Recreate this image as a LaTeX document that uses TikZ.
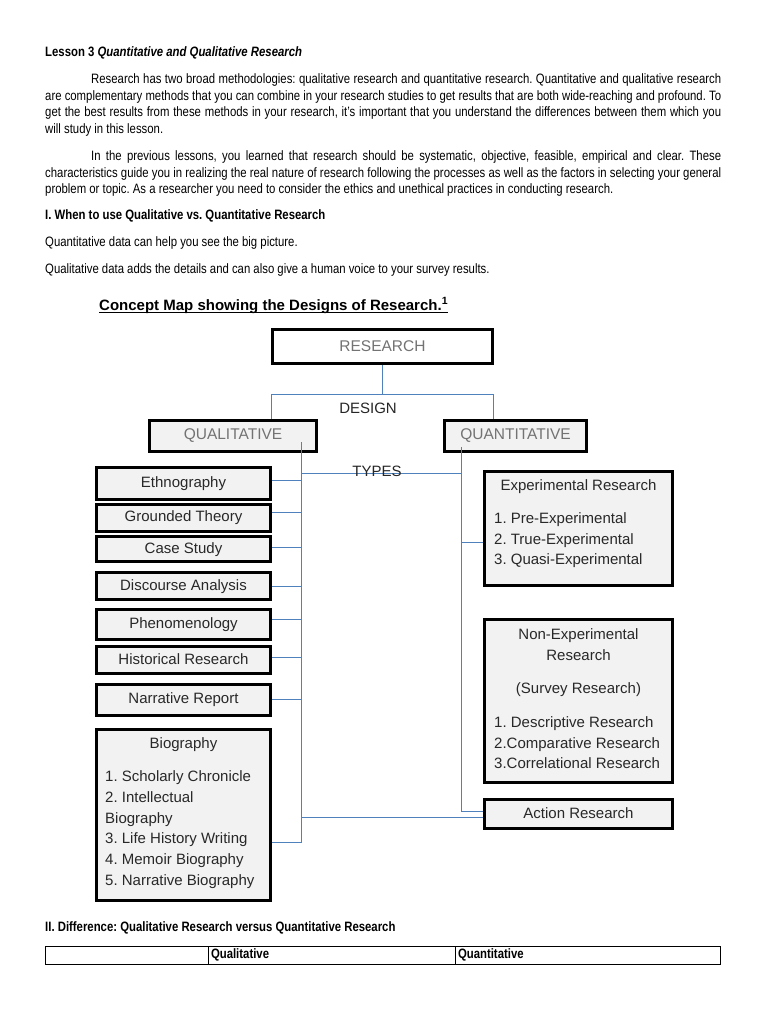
\documentclass[tikz,border=0pt]{standalone}
\usepackage{fontspec}
\setmainfont{Liberation Sans}
\newfontfamily\narrowfont[FakeStretch=0.835]{Liberation Sans}
\definecolor{connc}{RGB}{79,129,189}
\definecolor{boxfill}{RGB}{242,242,242}
\definecolor{boxtext}{RGB}{40,40,40}
\frenchspacing
\begin{document}
\begin{tikzpicture}[x=1pt,y=-1pt,
  body/.style={anchor=base west, inner sep=0, font=\narrowfont\fontsize{13.6}{16}\selectfont, text=black},
  bodyb/.style={body, font=\narrowfont\bfseries\fontsize{13.6}{16}\selectfont},
  box/.style={draw=black, line width=2.6pt, fill=boxfill, inner sep=0},
  lbl/.style={inner sep=0, font=\fontsize{15}{18}\selectfont, text=boxtext, text height=11pt, text depth=3pt},
  head/.style={inner sep=0, font=\fontsize{15.5}{18}\selectfont, text=black!55},
  conn/.style={draw=connc, line width=0.9pt},
  cell/.style={draw=black, line width=0.8pt, inner xsep=3pt, inner ysep=0, outer sep=0, minimum height=18pt, anchor=north west, align=left, font=\narrowfont\bfseries\fontsize{13.6}{16}\selectfont}]
\useasboundingbox (0,0) rectangle (768,1024);
\fill[white] (0,0) rectangle (768,1024);

% ---------- text ----------
\node[bodyb] (lesson) at (45,57) {Lesson 3 \textit{Quantitative and Qualitative Research}};
\node[body] (p1a) at (91,84) {\makebox[630pt][s]{Research has two broad methodologies: qualitative research and quantitative research. Quantitative and qualitative research}};
\node[body] (p1b) at (45,100.5) {\makebox[676pt][s]{are complementary methods that you can combine in your research studies to get results that are both wide-reaching and profound. To}};
\node[body] (p1c) at (45,117) {\makebox[676pt][s]{get the best results from these methods in your research, it’s important that you understand the differences between them which you}};
\node[body] (p1d) at (45,133.5) {will study in this lesson.};
\node[body] (p2a) at (91,161) {\makebox[630pt][s]{In the previous lessons, you learned that research should be systematic, objective, feasible, empirical and clear. These}};
\node[body] (p2b) at (45,177.5) {\makebox[676pt][s]{characteristics guide you in realizing the real nature of research following the processes as well as the factors in selecting your general}};
\node[body] (p2c) at (45,194) {problem or topic. As a researcher you need to consider the ethics and unethical practices in conducting research.};
\node[bodyb] (sec1) at (45,219.5) {I. When to use Qualitative vs. Quantitative Research};
\node[body] (q1) at (45,246.5) {Quantitative data can help you see the big picture.};
\node[body] (q2) at (45,273.5) {Qualitative data adds the details and can also give a human voice to your survey results.};
\node[anchor=base west, inner sep=0, font=\bfseries\fontsize{15}{18}\selectfont] (cm) at (99,310) {Concept Map showing the Designs of Research.\textsuperscript{1}};
\draw[line width=1.3pt] ([yshift=-2.5pt]cm.base west) -- ([yshift=-2.5pt]cm.base east);

% ---------- boxes ----------
\node[box, fill=white, minimum width=220pt, minimum height=34pt] (res) at (382.5,346.5) {};
\node[head] (rest) at (res) {RESEARCH};
\node[box, minimum width=167pt, minimum height=31pt] (ql) at (233,436) {};
\node[head] (qlt0) at (ql) {QUALITATIVE};
\node[box, minimum width=142pt, minimum height=31pt] (qn) at (515.5,436) {};
\node[head] (qnt0) at (qn) {QUANTITATIVE};

\node[box, minimum width=174pt, minimum height=32pt] (eth) at (183.5,483.5) {};
\node[box, minimum width=174pt, minimum height=27pt] (gro) at (183.5,518) {};
\node[box, minimum width=174pt, minimum height=25pt] (cas) at (183.5,549) {};
\node[box, minimum width=174pt, minimum height=27pt] (dis) at (183.5,586) {};
\node[box, minimum width=174pt, minimum height=30pt] (phe) at (183.5,624.5) {};
\node[box, minimum width=174pt, minimum height=27pt] (his) at (183.5,660) {};
\node[box, minimum width=174pt, minimum height=31pt] (nar) at (183.5,700) {};
\node[box, minimum width=174pt, minimum height=171pt] (bio) at (183.5,815) {};

\node[box, minimum width=188pt, minimum height=114pt] (exp) at (578.5,528.5) {};
\node[box, minimum width=188pt, minimum height=163pt] (non) at (578.5,701) {};
\node[box, minimum width=188pt, minimum height=29pt] (act) at (578.5,814) {};

% ---------- labels ----------
\node[lbl] (etht) at (183.5,483) {Ethnography};
\node[lbl] (grot) at (183.5,517) {Grounded Theory};
\node[lbl] (cast) at (183.5,549) {Case Study};
\node[lbl] (dist) at (183.5,586) {Discourse Analysis};
\node[lbl] (phet) at (183.5,624) {Phenomenology};
\node[lbl] (hist) at (183.5,660) {Historical Research};
\node[lbl] (nart) at (183.5,699) {Narrative Report};
\node[lbl] (biot) at (183.5,744) {Biography};
\node[lbl, anchor=west] (bio1) at (105,777) {1. Scholarly Chronicle};
\node[lbl, anchor=west] (bio2) at (105,798) {2. Intellectual};
\node[lbl, anchor=west] (bio3) at (105,819) {Biography};
\node[lbl, anchor=west] (bio4) at (105,839.5) {3. Life History Writing};
\node[lbl, anchor=west] (bio5) at (105,860) {4. Memoir Biography};
\node[lbl, anchor=west] (bio6) at (105,881) {5. Narrative Biography};

\node[lbl] (expt) at (578.5,486) {Experimental Research};
\node[lbl, anchor=west] (exp1) at (494,519.5) {1. Pre-Experimental};
\node[lbl, anchor=west] (exp2) at (494,540.5) {2. True-Experimental};
\node[lbl, anchor=west] (exp3) at (494,560.5) {3. Quasi-Experimental};

\node[lbl] (nont1) at (578.5,635) {Non-Experimental};
\node[lbl] (nont2) at (578.5,656) {Research};
\node[lbl] (nont3) at (578.5,689.5) {(Survey Research)};
\node[lbl, anchor=west] (non1) at (494,723.5) {1. Descriptive Research};
\node[lbl, anchor=west] (non2) at (494,744.5) {2.Comparative Research};
\node[lbl, anchor=west] (non3) at (494,764.5) {3.Correlational Research};

\node[lbl] (actt) at (578.5,814) {Action Research};

% ---------- connectors ----------
\coordinate (dj) at (382.5,394);
\draw[conn] (res.south) -- (dj);
\draw[conn] (res.west |- ql.north) -- (res.west |- dj) -- (res.east |- dj) -- (res.east |- qn.north);
\node[inner sep=0, font=\fontsize{15}{18}\selectfont, text=black!85] (design) at (368,408) {DESIGN};

\coordinate (qlv) at (301,442);
\coordinate (qlb) at (301,842);
\coordinate (qnv) at (461,447);
\coordinate (tl) at (301,473);
\draw[conn] (qlv) -- (qlb) -- (bio.east |- qlb);
\draw[conn] ([yshift=3.5pt]eth.east) -| (qlv);
\draw[conn] ([yshift=6pt]gro.east) -| (qlv);
\draw[conn] ([yshift=2pt]cas.east) -| (qlv);
\draw[conn] (dis.east) -| (qlv);
\draw[conn] ([yshift=5.5pt]phe.east) -| (qlv);
\draw[conn] ([yshift=3pt]his.east) -| (qlv);
\draw[conn] ([yshift=1pt]nar.east) -| (qlv);
\draw[conn] ([yshift=-3pt]act.west) -| (qlv);
\draw[conn] (qnv) |- ([yshift=3pt]act.west);
\draw[conn] ([yshift=-13.5pt]exp.west) -| (qnv);
\draw[conn] (tl) -- (tl -| qnv);
\node[inner sep=0, font=\fontsize{15}{18}\selectfont, text=black!85] (types) at (377,471) {TYPES};

% ---------- bottom ----------
\node[bodyb] (sec2) at (45,931) {II. Difference: Qualitative Research versus Quantitative Research};
\node[cell, text width=157pt] (c1) at (45,946) {};
\node[cell, text width=241pt] (c2) at (c1.north east) {Qualitative};
\node[cell, text width=259pt] (c3) at (c2.north east) {Quantitative};
\end{tikzpicture}
\end{document}
